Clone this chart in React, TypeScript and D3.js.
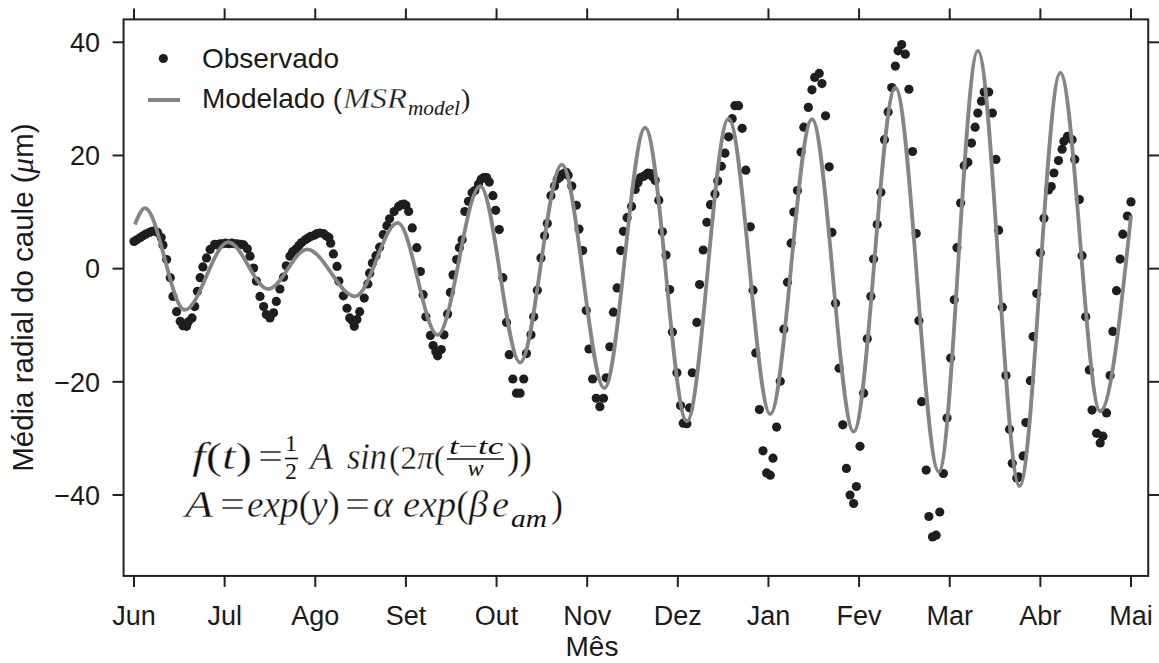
import React from 'react';
import * as d3 from 'd3';

const monthLabels = ['Jun', 'Jul', 'Ago', 'Set', 'Out', 'Nov', 'Dez', 'Jan', 'Fev', 'Mar', 'Abr', 'Mai'];
const yTickValues = [-40, -20, 0, 20, 40];

// observed stem radius [month position, value µm]
const observed: [number, number][] = [
  [0.00,4.8],[0.03,5.1],[0.07,5.5],[0.10,5.8],[0.13,6.1],[0.17,6.4],[0.20,6.6],[0.23,6.7],[0.26,6.4],[0.30,5.5],
  [0.32,4.2],[0.36,1.6],[0.40,-1.6],[0.43,-4.9],[0.47,-7.6],[0.51,-9.3],[0.54,-10.1],[0.58,-10.2],[0.60,-9.4],[0.64,-8.7],
  [0.67,-6.7],[0.70,-4.0],[0.73,-1.6],[0.76,0.3],[0.80,1.9],[0.84,3.4],[0.89,4.3],[0.92,4.2],[0.95,4.4],[0.98,4.4],
  [1.01,4.5],[1.05,4.4],[1.08,4.5],[1.11,4.4],[1.14,4.4],[1.18,4.3],[1.21,4.2],[1.25,3.5],[1.28,2.2],[1.32,0.1],
  [1.35,-2.2],[1.39,-4.9],[1.43,-6.7],[1.46,-8.1],[1.50,-8.7],[1.54,-7.8],[1.57,-5.8],[1.61,-3.6],[1.65,-1.5],[1.68,0.5],
  [1.72,2.2],[1.75,3.0],[1.79,3.5],[1.82,4.1],[1.85,4.6],[1.89,5.1],[1.92,5.4],[1.95,5.7],[1.99,5.9],[2.02,6.2],
  [2.05,6.3],[2.09,6.2],[2.12,5.8],[2.15,5.5],[2.17,4.5],[2.20,2.6],[2.24,0.4],[2.26,-2.2],[2.31,-4.8],[2.35,-7.0],
  [2.38,-8.7],[2.41,-9.2],[2.43,-10.2],[2.46,-9.0],[2.49,-7.6],[2.54,-5.2],[2.58,-2.7],[2.60,-0.8],[2.63,1.0],[2.67,2.3],
  [2.71,3.8],[2.75,6.0],[2.79,7.6],[2.82,8.8],[2.87,10.1],[2.92,11.0],[2.95,11.3],[2.98,11.4],[3.00,11.2],[3.03,10.1],
  [3.07,7.2],[3.12,3.7],[3.16,-0.5],[3.19,-4.6],[3.22,-8.5],[3.27,-11.8],[3.30,-13.6],[3.33,-14.7],[3.35,-15.4],[3.39,-14.3],
  [3.42,-11.7],[3.46,-8.0],[3.49,-4.2],[3.52,-1.1],[3.56,1.6],[3.59,3.7],[3.62,5.1],[3.65,10.1],[3.69,11.9],[3.73,13.4],
  [3.76,13.8],[3.80,14.9],[3.83,15.8],[3.86,16.1],[3.89,16.1],[3.92,15.3],[3.96,12.9],[3.99,10.3],[4.03,6.9],[4.07,-1.6],
  [4.11,-9.5],[4.14,-15.2],[4.18,-19.5],[4.22,-22.0],[4.26,-22.0],[4.30,-19.5],[4.33,-15.0],[4.38,-11.7],[4.41,-8.5],[4.45,-3.8],
  [4.49,1.9],[4.53,5.8],[4.56,8.0],[4.60,12.9],[4.64,14.6],[4.67,15.8],[4.70,16.2],[4.72,16.6],[4.75,16.9],[4.77,17.0],
  [4.79,16.5],[4.83,14.6],[4.88,11.2],[4.91,7.0],[4.95,3.2],[4.99,-7.4],[5.02,-14.2],[5.06,-19.5],[5.10,-22.9],[5.14,-24.4],
  [5.18,-22.9],[5.21,-19.3],[5.25,-13.8],[5.29,-7.7],[5.33,-3.4],[5.37,3.2],[5.40,6.6],[5.44,9.0],[5.49,11.0],[5.53,14.0],
  [5.56,15.2],[5.59,16.1],[5.62,16.3],[5.65,16.6],[5.67,16.9],[5.70,16.8],[5.72,16.3],[5.75,15.6],[5.79,12.1],[5.83,6.5],
  [5.87,2.4],[5.91,-3.7],[5.94,-11.2],[5.99,-18.4],[6.03,-24.2],[6.06,-27.3],[6.10,-27.4],[6.13,-24.6],[6.16,-18.4],[6.21,-9.5],
  [6.24,-2.8],[6.28,3.3],[6.32,8.2],[6.36,11.3],[6.41,13.2],[6.44,15.5],[6.48,18.1],[6.52,20.4],[6.56,23.3],[6.60,26.5],
  [6.63,28.8],[6.67,28.8],[6.71,24.8],[6.75,17.4],[6.80,7.4],[6.83,-3.8],[6.86,-14.9],[6.90,-24.9],[6.94,-32.2],[6.98,-36.1],
  [7.02,-36.5],[7.05,-33.5],[7.09,-28.0],[7.13,-19.9],[7.17,-10.7],[7.21,-2.4],[7.25,4.5],[7.28,10.0],[7.32,13.8],[7.36,20.6],
  [7.39,25.0],[7.44,28.5],[7.48,31.6],[7.51,33.8],[7.56,34.5],[7.59,32.7],[7.63,27.0],[7.67,18.0],[7.70,6.4],[7.74,-6.1],
  [7.78,-17.6],[7.82,-27.6],[7.86,-35.3],[7.90,-40.0],[7.94,-41.5],[7.97,-38.5],[8.01,-31.4],[8.05,-22.0],[8.09,-12.4],[8.13,-4.9],
  [8.16,1.7],[8.20,7.8],[8.24,13.5],[8.28,22.8],[8.32,27.7],[8.36,32.0],[8.40,35.8],[8.43,38.5],[8.47,39.6],[8.51,37.9],
  [8.55,31.7],[8.59,20.7],[8.63,6.2],[8.66,-9.2],[8.69,-23.5],[8.74,-35.6],[8.77,-43.8],[8.81,-47.4],[8.85,-47.1],[8.89,-43.0],
  [8.93,-36.2],[8.97,-26.4],[9.01,-15.8],[9.05,-5.5],[9.08,3.7],[9.12,11.6],[9.16,18.2],[9.20,18.8],[9.24,22.2],[9.28,25.0],
  [9.31,27.5],[9.35,29.6],[9.38,31.2],[9.43,31.2],[9.47,27.5],[9.51,19.3],[9.54,6.8],[9.58,-6.8],[9.62,-18.9],[9.66,-28.4],
  [9.69,-34.4],[9.74,-37.0],[9.76,-36.8],[9.81,-33.1],[9.84,-27.2],[9.89,-19.8],[9.92,-12.0],[9.96,-4.4],[10.00,2.8],[10.04,8.9],
  [10.09,13.9],[10.12,14.5],[10.15,16.9],[10.20,19.1],[10.24,21.1],[10.26,22.5],[10.30,23.4],[10.35,22.8],[10.38,19.3],[10.43,12.2],
  [10.46,2.3],[10.50,-8.5],[10.54,-17.9],[10.57,-25.0],[10.62,-29.1],[10.66,-30.8],[10.69,-29.6],[10.73,-25.5],[10.77,-18.9],[10.80,-11.1],
  [10.84,-3.9],[10.88,1.7],[10.91,6.1],[10.96,9.3],[11.00,11.8],
];

// modelled curve (MSR_model): start, successive peaks/troughs, end [month position, value µm]
const modelled: [number, number][] = [
  [0.01,7.8],[0.12,10.7],[0.56,-7.3],[1.04,4.7],[1.48,-3.6],[1.91,3.4],[2.44,-4.9],[2.91,8.1],[3.35,-11.7],
  [3.82,14.6],[4.26,-16.6],[4.72,18.4],[5.19,-21.1],[5.64,24.9],[6.10,-27.0],[6.56,26.5],[7.02,-25.7],
  [7.48,26.4],[7.94,-28.8],[8.40,32.0],[8.88,-35.9],[9.31,38.5],[9.77,-38.4],[10.22,34.6],[10.66,-25.2],[11.00,9.4],
];

const SANS = '"Liberation Sans", Arial, Helvetica, sans-serif';
const SERIF = '"Liberation Serif", "Times New Roman", serif';

export default function App() {
  const W = 1159, H = 663;
  const x = d3.scaleLinear().domain([0, 11]).range([134, 1131]);
  const y = d3.scaleLinear().domain([-40, 40]).range([495, 42.3]);
  const left = x(-0.115), right = x(11.19), top = y(44.05), bottom = y(-54.3);

  const line = d3.line<[number, number]>()
    .x(d => x(d[0]))
    .y(d => y(d[1]))
    .curve(d3.curveMonotoneX);

  const tickLen = 11;
  const ink = '#1e1e1e';
  const gray = '#858585';
  const thin = { stroke: '#fff', strokeWidth: 0.35 } as const;
  const L1 = 469, L2 = 517;

  return (
    <svg width={W} height={H} style={{ position: 'absolute', left: 0, top: 0, background: '#fff' }}>
      <rect x={0} y={0} width={W} height={H} fill="#fff" />
      {/* observed points */}
      <g fill={ink}>
        {observed.map((d, i) => (
          <circle key={i} cx={x(d[0])} cy={y(d[1])} r={4.6} />
        ))}
      </g>
      {/* model line */}
      <path d={line(modelled) || ''} fill="none" stroke={gray} strokeWidth={3.8} strokeLinejoin="round" />

      {/* frame */}
      <rect x={left} y={top} width={right - left} height={bottom - top} fill="none" stroke="#222" strokeWidth={2} />

      {/* ticks */}
      <g stroke="#222" strokeWidth={2}>
        {monthLabels.map((m, i) => (
          <g key={m}>
            <line x1={x(i)} x2={x(i)} y1={bottom} y2={bottom + tickLen} />
            <line x1={x(i)} x2={x(i)} y1={top} y2={top - tickLen} />
          </g>
        ))}
        {yTickValues.map(v => (
          <g key={v}>
            <line x1={left} x2={left - tickLen} y1={y(v)} y2={y(v)} />
            <line x1={right} x2={right + tickLen} y1={y(v)} y2={y(v)} />
          </g>
        ))}
      </g>
      <g fontFamily={SANS} fontSize={27} fill="#1a1a1a">
        {monthLabels.map((m, i) => (
          <text key={m} x={x(i)} y={625} textAnchor="middle">{m}</text>
        ))}
        {yTickValues.map(v => (
          <text key={v} x={100} y={y(v)} dy="0.36em" textAnchor="end">{v < 0 ? '\u2212' + Math.abs(v) : String(v)}</text>
        ))}
        <text x={592} y={656} textAnchor="middle" fontSize={28}>Mês</text>
        <text transform={`translate(33, ${(top + bottom) / 2}) rotate(-90)`} textAnchor="middle" fontSize={29.5}>
          Média radial do caule (<tspan fontFamily={SERIF} fontStyle="italic" fontSize={31}>μ</tspan>m)
        </text>
      </g>

      {/* legend */}
      <circle cx={163.3} cy={58.5} r={4.6} fill={ink} />
      <line x1={148} x2={180} y1={100} y2={100} stroke={gray} strokeWidth={4} />
      <g fill="#1a1a1a">
        <text x={202} y={68} fontFamily={SANS} fontSize={28}>Observado</text>
        <text x={202} y={108} fontFamily={SANS} fontSize={28}>Modelado (</text>
        <text x={343} y={108} fontFamily={SERIF} fontStyle="italic" fontSize={30} textLength={64} lengthAdjust="spacingAndGlyphs" {...thin}>MSR</text>
        <text x={408} y={115} fontFamily={SERIF} fontStyle="italic" fontSize={21} textLength={52} lengthAdjust="spacingAndGlyphs">model</text>
        <text x={461} y={108} fontFamily={SERIF} fontSize={28}>)</text>
      </g>

      {/* formula */}
      <g fill="#111" fontFamily={SERIF}>
        {/* line 1 */}
        <text x={192} y={L1} fontSize={38} textLength={60} lengthAdjust="spacingAndGlyphs" {...thin}>
          <tspan fontStyle="italic">f</tspan>(<tspan fontStyle="italic">t</tspan>)
        </text>
        <text x={258} y={L1} fontSize={38} textLength={25} lengthAdjust="spacingAndGlyphs" {...thin}>=</text>
        <text x={291} y={451} fontSize={23} textAnchor="middle">1</text>
        <line x1={285} x2={298} y1={458.5} y2={458.5} stroke="#111" strokeWidth={1.6} />
        <text x={291} y={478.5} fontSize={23} textAnchor="middle">2</text>
        <text x={310} y={L1} fontSize={38} fontStyle="italic" textLength={23} lengthAdjust="spacingAndGlyphs" {...thin}>A</text>
        <text x={347} y={L1} fontSize={38} fontStyle="italic" textLength={40} lengthAdjust="spacingAndGlyphs" {...thin}>sin</text>
        <text x={389} y={L1} fontSize={34} textLength={56} lengthAdjust="spacingAndGlyphs" {...thin}>
          (2<tspan fontStyle="italic">π</tspan>(
        </text>
        <text x={449} y={454} fontSize={24} textLength={54} lengthAdjust="spacingAndGlyphs">
          <tspan fontStyle="italic">t</tspan>−<tspan fontStyle="italic">tc</tspan>
        </text>
        <line x1={447} x2={504} y1={459} y2={459} stroke="#111" strokeWidth={1.6} />
        <text x={475.5} y={476} fontSize={24} fontStyle="italic" textAnchor="middle">w</text>
        <text x={507} y={L1} fontSize={38} textLength={25} lengthAdjust="spacingAndGlyphs" {...thin}>))</text>

        {/* line 2 */}
        <text x={185} y={L2} fontSize={38} fontStyle="italic" textLength={28} lengthAdjust="spacingAndGlyphs" {...thin}>A</text>
        <text x={220} y={L2} fontSize={38} textLength={25} lengthAdjust="spacingAndGlyphs" {...thin}>=</text>
        <text x={247} y={L2} fontSize={38} textLength={93} lengthAdjust="spacingAndGlyphs" {...thin}>
          <tspan fontStyle="italic">exp</tspan>(<tspan fontStyle="italic">y</tspan>)
        </text>
        <text x={345} y={L2} fontSize={38} textLength={25} lengthAdjust="spacingAndGlyphs" {...thin}>=</text>
        <text x={373} y={L2} fontSize={38} fontStyle="italic" textLength={20} lengthAdjust="spacingAndGlyphs" {...thin}>α</text>
        <text x={403} y={L2} fontSize={38} textLength={85} lengthAdjust="spacingAndGlyphs" {...thin}>
          <tspan fontStyle="italic">exp</tspan>(<tspan fontStyle="italic">β</tspan>
        </text>
        <text x={492} y={L2} fontSize={38} fontStyle="italic" textLength={17} lengthAdjust="spacingAndGlyphs" {...thin}>e</text>
        <text x={511} y={L2 + 10} fontSize={25} fontStyle="italic" textLength={36} lengthAdjust="spacingAndGlyphs">am</text>
        <text x={551} y={L2} fontSize={38} textLength={12} lengthAdjust="spacingAndGlyphs" {...thin}>)</text>
      </g>
    </svg>
  );
}
